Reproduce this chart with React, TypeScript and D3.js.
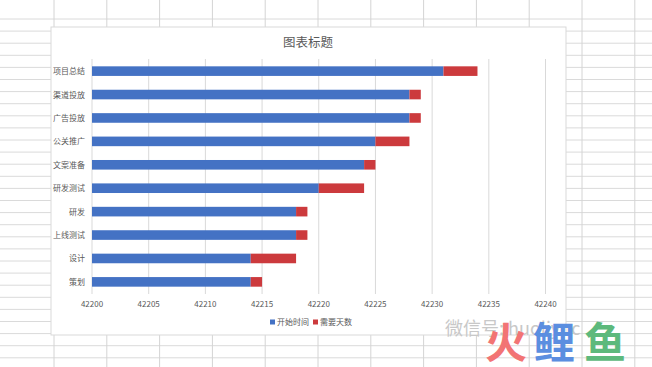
import React, { useEffect, useRef } from "react";
import * as d3 from "d3";

const categories = ["项目总结", "渠道投放", "广告投放", "公关推广", "文案准备", "研发测试", "研发", "上线测试", "设计", "策划"];
const startDays = [42231, 42228, 42228, 42225, 42224, 42220, 42218, 42218, 42214, 42214];
const durations = [3, 1, 1, 3, 1, 4, 1, 1, 4, 1];
const xTicks = [42200, 42205, 42210, 42215, 42220, 42225, 42230, 42235, 42240];
const seriesNames = ["开始时间", "需要天数"];

const W = 652;
const H = 367;
const FONT = "'Noto Sans CJK SC', 'Noto Sans', sans-serif";

export default function App() {
  const svgRef = useRef<SVGSVGElement>(null);

  useEffect(() => {
    if (!svgRef.current) return;
    const svg = d3.select(svgRef.current);
    svg.selectAll("*").remove();

    // spreadsheet cell grid behind the chart
    const sheet = svg.append("g");
    sheet.append("rect").attr("width", W).attr("height", H).attr("fill", "#ffffff");
    d3.range(19, H, 12.1).forEach((y) => {
      sheet.append("line")
        .attr("x1", 0).attr("x2", W).attr("y1", y).attr("y2", y)
        .attr("stroke", "#dadada").attr("stroke-width", 1);
    });
    d3.range(54, W, 52.8).forEach((x) => {
      sheet.append("line")
        .attr("x1", x).attr("x2", x).attr("y1", 0).attr("y2", H)
        .attr("stroke", "#d4d4d4").attr("stroke-width", 1);
    });

    // chart box
    const box = { left: 51, top: 27, right: 566, bottom: 335 };
    svg.append("rect")
      .attr("x", box.left).attr("y", box.top)
      .attr("width", box.right - box.left).attr("height", box.bottom - box.top)
      .attr("fill", "#ffffff").attr("stroke", "#d9d9d9");

    svg.append("text")
      .attr("x", 308).attr("y", 47)
      .attr("text-anchor", "middle")
      .attr("fill", "#595959")
      .style("font-family", FONT).style("font-size", "12.5px")
      .text("图表标题");

    const x = d3.scaleLinear().domain([42200, 42240]).range([92, 545.5]);
    const y = d3.scaleBand<string>().domain(categories).range([59.3, 293.7]).paddingInner(0.59).paddingOuter(0.3);

    const g = svg.append("g");

    // vertical gridlines
    g.selectAll("line.grid")
      .data(xTicks)
      .join("line")
      .attr("x1", (d) => x(d)).attr("x2", (d) => x(d))
      .attr("y1", 59).attr("y2", 294)
      .attr("stroke", "#d9d9d9");

    // start bars
    g.selectAll("rect.start")
      .data(categories)
      .join("rect")
      .attr("x", x(42200))
      .attr("y", (d) => y(d)!)
      .attr("width", (_, i) => x(startDays[i]) - x(42200))
      .attr("height", y.bandwidth())
      .attr("fill", "#4472C4");

    // duration bars
    g.selectAll("rect.dur")
      .data(categories)
      .join("rect")
      .attr("x", (_, i) => x(startDays[i]))
      .attr("y", (d) => y(d)!)
      .attr("width", (_, i) => x(startDays[i] + durations[i]) - x(startDays[i]))
      .attr("height", y.bandwidth())
      .attr("fill", "#CC3A3D");

    // category labels
    g.selectAll("text.cat")
      .data(categories)
      .join("text")
      .attr("x", 85)
      .attr("y", (d) => y(d)! + y.bandwidth() / 2 + 3)
      .attr("text-anchor", "end")
      .attr("fill", "#595959")
      .style("font-family", FONT).style("font-size", "8px")
      .text((d) => d);

    // x tick labels
    g.selectAll("text.tick")
      .data(xTicks)
      .join("text")
      .attr("x", (d) => x(d))
      .attr("y", 307)
      .attr("text-anchor", "middle")
      .attr("fill", "#595959")
      .style("font-family", FONT).style("font-size", "8px")
      .text((d) => String(d));

    // legend
    const legendColors = ["#4472C4", "#CC3A3D"];
    const legendX = [270, 313];
    seriesNames.forEach((name, i) => {
      svg.append("rect")
        .attr("x", legendX[i]).attr("y", 319.5)
        .attr("width", 5).attr("height", 5)
        .attr("fill", legendColors[i]);
      svg.append("text")
        .attr("x", legendX[i] + 7).attr("y", 325)
        .attr("fill", "#595959")
        .style("font-family", FONT).style("font-size", "8px")
        .text(name);
    });

    // watermark
    svg.append("text")
      .attr("x", 445).attr("y", 335)
      .attr("fill", "#c8c8c8")
      .style("font-family", FONT).style("font-size", "18px")
      .text("微信号: huoliyuc");
    const logo = ["火", "鲤", "鱼"];
    const logoColors = ["#f27474", "#5b8ee0", "#5db97c"];
    const logoX = [485, 533, 584];
    logo.forEach((ch, i) => {
      svg.append("text")
        .attr("x", logoX[i]).attr("y", 358)
        .attr("fill", logoColors[i])
        .style("font-family", FONT).style("font-size", "42px").style("font-weight", "bold")
        .text(ch);
    });
  }, []);

  return (
    <svg
      ref={svgRef}
      width={W}
      height={H}
      style={{ position: "fixed", left: 0, top: 0, display: "block" }}
    />
  );
}
